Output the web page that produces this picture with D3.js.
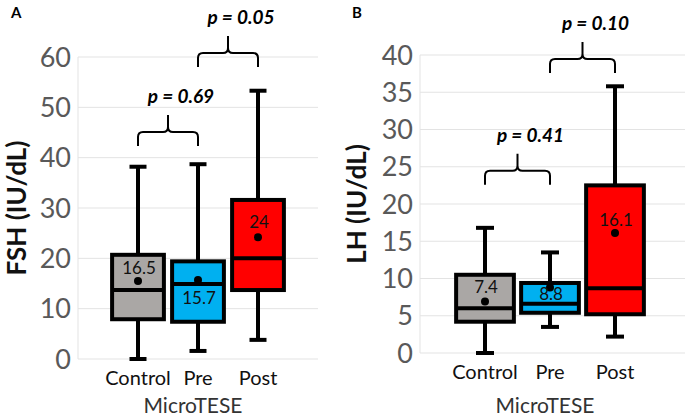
<!DOCTYPE html>
<html>
<head>
<meta charset="utf-8">
<script src="https://cdn.jsdelivr.net/npm/d3@7"></script>
<style>
  body { margin: 0; background: #fff; }
  svg { font-family: Lato, "Open Sans", sans-serif; }
  .grid line { stroke: #e3e3e3; stroke-width: 1; }
  .tick-y { fill: #595959; font-size: 27px; }
  .tick-x { fill: #111; font-size: 20px; }
  .x-title { fill: #333; font-size: 21px; }
  .y-title { fill: #111; font-size: 26px; font-weight: bold; }
  .panel { font-size: 15px; font-weight: bold; }
  .pval { font-size: 19px; font-weight: bold; font-style: italic; }
  .meanlab { font-size: 17px; fill: #111; }
</style>
</head>
<body>
<svg width="685" height="420"></svg>
<script>
const groups = ["Control", "Pre", "Post"]
const colors = ["#aaa7a5", "#00b0f0", "#ff0000"]

// FSH panel
const fshMin = [0, 1.6, 3.8]
const fshQ1 = [7.9, 7.4, 13.7]
const fshMedian = [13.7, 14.9, 20]
const fshQ3 = [20.7, 19.4, 31.6]
const fshMax = [38.2, 38.7, 53.3]
const fshMean = [15.5, 15.7, 24.2]
const fshMeanText = ["16.5", "15.7", "24"]
const fshTicks = [0, 10, 20, 30, 40, 50, 60]
const fshPairs = [["Control", "Pre"], ["Pre", "Post"]]
const fshP = ["p = 0.69", "p = 0.05"]
const fshBracketY = [42.3, 58]

// LH panel
const lhMin = [0, 3.5, 2.2]
const lhQ1 = [4.2, 5.4, 5.2]
const lhMedian = [6.0, 6.6, 8.7]
const lhQ3 = [10.5, 9.4, 22.5]
const lhMax = [16.8, 13.5, 35.8]
const lhMean = [6.9, 8.8, 16.1]
const lhMeanText = ["7.4", "8.8", "16.1"]
const lhTicks = [0, 5, 10, 15, 20, 25, 30, 35, 40]
const lhPairs = [["Control", "Pre"], ["Pre", "Post"]]
const lhP = ["p = 0.41", "p = 0.10"]
const lhBracketY = [22.6, 37.6]

const svg = d3.select("svg")

function drawPanel(cfg) {
    const x = d3.scalePoint()
        .domain(groups)
        .range([cfg.left, cfg.right])
        .padding(1)
    const y = d3.scaleLinear()
        .domain([0, d3.max(cfg.ticks)])
        .range([cfg.bottom, cfg.top])
    const boxW = x.step() * cfg.boxFrac - 4

    const g = svg.append("g")

    // grid
    const grid = g.append("g").attr("class", "grid")
    grid.selectAll("line.h")
        .data(cfg.ticks)
        .enter()
        .append("line")
        .attr("x1", cfg.left)
        .attr("x2", cfg.gridRight)
        .attr("y1", d => y(d))
        .attr("y2", d => y(d))
    grid.append("line")
        .attr("x1", cfg.left).attr("x2", cfg.left)
        .attr("y1", y(0)).attr("y2", y(d3.max(cfg.ticks)))

    g.selectAll("text.tick-y")
        .data(cfg.ticks)
        .enter()
        .append("text")
        .attr("class", "tick-y")
        .attr("x", cfg.left - 7)
        .attr("y", d => y(d))
        .attr("dy", "0.36em")
        .attr("text-anchor", "end")
        .text(d => d)

    const data = groups.map((k, i) => ({
        key: k, color: colors[i],
        min: cfg.min[i], q1: cfg.q1[i], med: cfg.median[i], q3: cfg.q3[i],
        max: cfg.max[i], mean: cfg.mean[i], label: cfg.meanText[i], dy: cfg.labelDy[i]
    }))

    const box = g.selectAll("g.box")
        .data(data)
        .enter()
        .append("g")
        .attr("class", "box")

    box.append("line")
        .attr("x1", d => x(d.key)).attr("x2", d => x(d.key))
        .attr("y1", d => y(d.min)).attr("y2", d => y(d.max))
        .attr("stroke", "#000").attr("stroke-width", 4)

    box.selectAll("line.cap")
        .data(d => [{k: d.key, v: d.min}, {k: d.key, v: d.max}])
        .enter()
        .append("line")
        .attr("class", "cap")
        .attr("x1", d => x(d.k) - cfg.capW / 2)
        .attr("x2", d => x(d.k) + cfg.capW / 2)
        .attr("y1", d => y(d.v)).attr("y2", d => y(d.v))
        .attr("stroke", "#000").attr("stroke-width", 4)

    box.append("rect")
        .attr("x", d => x(d.key) - boxW / 2)
        .attr("width", boxW)
        .attr("y", d => y(d.q3))
        .attr("height", d => y(d.q1) - y(d.q3))
        .attr("fill", d => d.color)
        .attr("stroke", "#000")
        .attr("stroke-width", 4)

    box.append("line")
        .attr("x1", d => x(d.key) - boxW / 2)
        .attr("x2", d => x(d.key) + boxW / 2)
        .attr("y1", d => y(d.med)).attr("y2", d => y(d.med))
        .attr("stroke", "#000").attr("stroke-width", 4)

    box.append("circle")
        .attr("cx", d => x(d.key))
        .attr("cy", d => y(d.mean))
        .attr("r", 4)
        .attr("fill", "#000")

    box.append("text")
        .attr("class", "meanlab")
        .attr("x", d => x(d.key) + 1)
        .attr("y", d => y(d.mean) + d.dy)
        .attr("text-anchor", "middle")
        .text(d => d.label)

    // x labels
    g.selectAll("text.tick-x")
        .data(groups)
        .enter()
        .append("text")
        .attr("class", "tick-x")
        .attr("x", d => x(d))
        .attr("y", cfg.bottom + 26)
        .attr("text-anchor", "middle")
        .text(d => d)

    g.append("text")
        .attr("class", "x-title")
        .attr("x", x("Pre") - 5)
        .attr("y", 413)
        .attr("text-anchor", "middle")
        .text("MicroTESE")

    g.append("text")
        .attr("class", "y-title")
        .attr("transform", `translate(${cfg.titleX}, ${(cfg.top + cfg.bottom) / 2}) rotate(-90)`)
        .attr("text-anchor", "middle")
        .text(cfg.title)

    g.append("text")
        .attr("class", "panel")
        .attr("x", cfg.panelX)
        .attr("y", 18)
        .text(cfg.panel)

    // brackets
    cfg.pairs.forEach((p, i) => {
        const x0 = x(p[0]), x1 = x(p[1]), xm = (x0 + x1) / 2
        const yb = y(cfg.bracketY[i]), yh = yb - 14, yt = yh - 17, r = 5
        const path = d3.path()
        path.moveTo(x0, yb)
        path.lineTo(x0, yh + r)
        path.quadraticCurveTo(x0, yh, x0 + r, yh)
        path.lineTo(xm - r, yh)
        path.quadraticCurveTo(xm, yh, xm, yh - r)
        path.lineTo(xm, yt)
        path.moveTo(xm, yh - r)
        path.quadraticCurveTo(xm, yh, xm + r, yh)
        path.lineTo(x1 - r, yh)
        path.quadraticCurveTo(x1, yh, x1, yh + r)
        path.lineTo(x1, yb)
        g.append("path")
            .attr("d", path.toString())
            .attr("fill", "none")
            .attr("stroke", "#000")
            .attr("stroke-width", 2)
        g.append("text")
            .attr("class", "pval")
            .attr("x", xm + 13)
            .attr("y", yt - 12)
            .attr("text-anchor", "middle")
            .text(cfg.p[i])
    })
}

drawPanel({
    left: 78, right: 318, gridRight: 318, top: 57, bottom: 359,
    ticks: fshTicks, min: fshMin, q1: fshQ1, median: fshMedian, q3: fshQ3,
    max: fshMax, mean: fshMean, meanText: fshMeanText, labelDy: [-7, 24, -9],
    pairs: fshPairs, p: fshP, bracketY: fshBracketY,
    boxFrac: 0.93, capW: 17, title: "FSH (IU/dL)", titleX: 26, panel: "A", panelX: 11
})

drawPanel({
    left: 420, right: 680, gridRight: 685, top: 55, bottom: 353,
    ticks: lhTicks, min: lhMin, q1: lhQ1, median: lhMedian, q3: lhQ3,
    max: lhMax, mean: lhMean, meanText: lhMeanText, labelDy: [-9, 13, -7],
    pairs: lhPairs, p: lhP, bracketY: lhBracketY,
    boxFrac: 0.95, capW: 18, title: "LH (IU/dL)", titleX: 366, panel: "B", panelX: 352
})
</script>
</body>
</html>
